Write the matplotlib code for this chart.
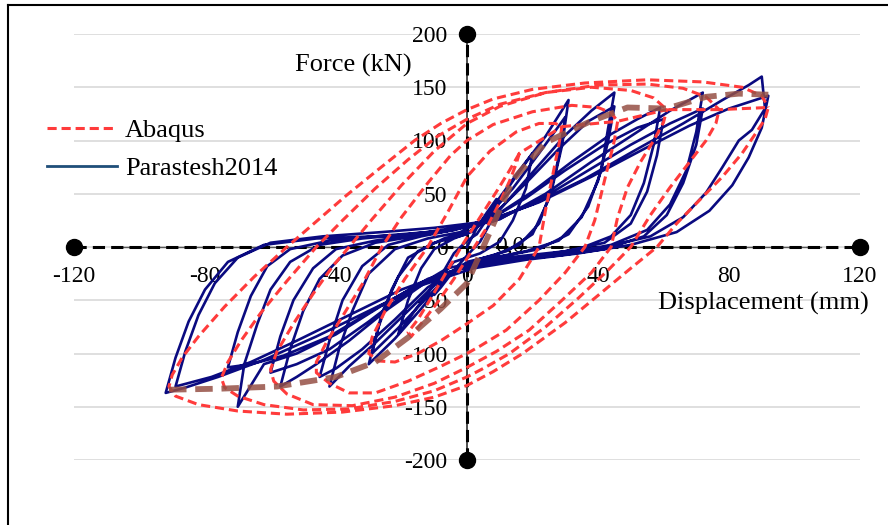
from matplotlib import pyplot as plt
from matplotlib.lines import Line2D
import numpy as np

# Abaqus hysteresis loops, (displacement mm, force kN), clockwise from the right tip
abaqus_s = [(16, 88), (13, 72), (9, 52), (4, 28), (-1, 4), (-6, -22), (-11, -48), (-15, -68), (-18, -80),
            (-17, -84), (-14, -72), (-9, -52), (-4, -30), (1, -6), (6, 18), (10, 42), (13, 62), (15, 78), (16, 88)]
abaqus_a = [(29, 113), (28, 95), (26, 65), (24, 35), (22, 0), (16, -30), (8, -55), (0, -72), (-8, -88),
            (-15, -100), (-22, -108), (-27, -107), (-30, -100), (-29, -85), (-25, -60), (-19, -30), (-12, 0),
            (-6, 32), (0, 66), (7, 90), (15, 108), (22, 116), (27, 116), (29, 113)]
abaqus_b = [(46, 118), (45, 100), (43, 75), (41, 50), (39, 25), (36, 0), (30, -24), (22, -50), (12, -78),
            (4, -93), (0, -100), (-8, -112), (-18, -126), (-28, -137), (-36, -137), (-42, -128), (-46, -118),
            (-46, -108), (-43, -90), (-38, -65), (-32, -35), (-26, 0), (-20, 28), (-12, 60), (-5, 86), (0, 100),
            (8, 115), (20, 127), (32, 133), (40, 131), (44, 126), (46, 118)]
abaqus_c = [(61, 129), (60, 117), (57, 100), (53, 80), (49, 56), (46, 28), (44, 0), (38, -24), (29, -50),
            (19, -78), (9, -98), (0, -113), (-10, -128), (-22, -141), (-35, -149), (-47, -148), (-55, -138),
            (-59, -126), (-60, -115), (-58, -98), (-53, -72), (-47, -44), (-41, -18), (-36, 0), (-29, 26),
            (-20, 58), (-10, 90), (0, 116), (10, 132), (24, 145), (38, 150), (50, 147), (57, 140), (61, 129)]
abaqus_d = [(77, 129), (76, 116), (73, 100), (68, 80), (62, 56), (56, 30), (50, 0), (43, -22), (34, -48),
            (24, -75), (13, -100), (5, -114), (0, -122), (-10, -135), (-22, -145), (-36, -152), (-50, -153),
            (-62, -148), (-70, -140), (-74, -132), (-75, -123), (-73, -108), (-69, -88), (-63, -62), (-55, -32),
            (-46, 0), (-38, 25), (-28, 55), (-18, 82), (-9, 104), (0, 120), (10, 134), (24, 145), (40, 152),
            (55, 153), (66, 149), (73, 141), (77, 129)]
abaqus_e = [(92, 131), (91, 120), (88, 106), (84, 88), (78, 66), (71, 44), (64, 22), (58, 0), (50, -20),
            (41, -43), (30, -71), (17, -100), (8, -117), (0, -130), (-10, -141), (-22, -149), (-38, -155),
            (-55, -157), (-70, -154), (-82, -148), (-89, -140), (-91, -131), (-90, -120), (-87, -104),
            (-82, -84), (-74, -56), (-65, -28), (-55, 0), (-46, 24), (-37, 48), (-27, 73), (-16, 100), (-8, 116),
            (0, 129), (8, 139), (20, 148), (36, 154), (55, 157), (72, 155), (84, 150), (90, 142), (92, 131)]

# Parastesh2014 test record, cycle by cycle
para_10 = [(0, 0), (3, 18), (6, 32), (9, 45), (7, 22), (4, 5), (0, -8), (-4, -22), (-8, -38), (-10, -45),
           (-7, -22), (-4, -6), (0, 6)]
para_20 = [(3, 12), (8, 35), (14, 62), (20, 88), (18, 55), (14, 25), (10, 5), (4, -6), (-4, -14), (-10, -35),
           (-16, -60), (-21, -82), (-18, -50), (-14, -20), (-10, -2), (-4, 8), (2, 15)]
para_30a = [(2, 15), (8, 38), (16, 72), (24, 104), (31, 138), (29, 95), (26, 55), (22, 22), (16, 2), (8, -8),
            (0, -14), (-6, -28), (-14, -58), (-22, -86), (-30, -110), (-27, -75), (-23, -40), (-18, -10),
            (-10, 4), (0, 12)]
para_30b = [(0, 12), (6, 28), (14, 55), (22, 88), (30, 122), (28, 84), (25, 45), (20, 12), (12, -4), (3, -12),
            (-5, -24), (-13, -50), (-21, -76), (-29, -100), (-26, -62), (-21, -28), (-15, -4), (-7, 8), (2, 16)]
para_45a = [(2, 16), (10, 35), (20, 70), (30, 105), (38, 128), (45, 145), (43, 110), (41, 72), (37, 38),
            (31, 12), (22, -2), (12, -8), (2, -14), (-8, -30), (-18, -60), (-28, -90), (-36, -112), (-42, -131),
            (-39, -95), (-35, -60), (-30, -25), (-22, -2), (-12, 8), (-2, 14)]
para_45b = [(-2, 14), (8, 30), (18, 60), (28, 92), (37, 118), (45, 132), (43, 98), (40, 62), (35, 28), (28, 6),
            (18, -4), (8, -10), (-2, -18), (-12, -38), (-22, -68), (-32, -96), (-40, -114), (-45, -122),
            (-42, -88), (-38, -50), (-32, -18), (-24, 2), (-14, 10), (-4, 16)]
para_60a = [(-4, 16), (8, 28), (20, 52), (32, 80), (44, 106), (52, 120), (59, 131), (57, 96), (54, 60),
            (50, 30), (44, 10), (34, -2), (22, -8), (10, -12), (0, -18), (-12, -32), (-24, -58), (-36, -88),
            (-46, -110), (-52, -122), (-57, -131), (-54, -96), (-50, -60), (-45, -30), (-38, -8), (-28, 4),
            (-16, 10), (-6, 15)]
para_60b = [(-6, 15), (6, 24), (18, 46), (30, 72), (42, 96), (52, 112), (60, 120), (58, 86), (55, 52),
            (50, 22), (42, 4), (30, -4), (18, -8), (6, -12), (-6, -20), (-18, -42), (-30, -70), (-42, -96),
            (-52, -110), (-60, -118), (-57, -84), (-53, -50), (-47, -20), (-40, -2), (-28, 6), (-14, 12), (-4, 16)]
para_75a = [(-4, 16), (10, 26), (24, 50), (38, 80), (50, 104), (62, 128), (72, 145), (70, 108), (67, 72),
            (62, 40), (55, 16), (44, 2), (30, -6), (16, -10), (2, -16), (-12, -30), (-26, -55), (-40, -82),
            (-52, -100), (-62, -110), (-70, -150), (-68, -110), (-64, -72), (-60, -40), (-54, -14), (-45, 2),
            (-32, 8), (-18, 12), (-6, 16)]
para_75b = [(-6, 16), (8, 24), (22, 44), (36, 70), (50, 96), (62, 116), (72, 130), (70, 96), (66, 60),
            (61, 30), (54, 10), (42, -2), (28, -8), (14, -12), (0, -18), (-14, -34), (-28, -58), (-42, -84),
            (-56, -102), (-66, -110), (-73, -113), (-70, -80), (-66, -46), (-61, -18), (-54, -2), (-42, 6),
            (-28, 10), (-12, 14)]
para_90a = [(-12, 14), (4, 22), (20, 40), (36, 64), (52, 92), (66, 116), (78, 138), (86, 152), (90, 160),
            (91, 130), (87, 110), (83, 100), (78, 75), (73, 51), (66, 28), (56, 10), (42, 0), (26, -8),
            (10, -14), (-4, -22), (-20, -40), (-36, -64), (-52, -88), (-66, -108), (-78, -122), (-89, -131),
            (-86, -98), (-82, -64), (-77, -34), (-70, -10), (-60, 4), (-44, 10), (-26, 14), (-10, 18)]
para_90b = [(-10, 18), (6, 24), (22, 42), (38, 66), (54, 92), (68, 114), (80, 130), (88, 138), (92, 142),
            (90, 112), (86, 84), (81, 58), (74, 34), (64, 14), (50, 2), (34, -6), (18, -12), (2, -20),
            (-14, -36), (-30, -60), (-46, -84), (-62, -106), (-76, -122), (-86, -132), (-92, -137), (-89, -104),
            (-85, -70), (-80, -40), (-73, -14), (-62, 2), (-46, 8), (-28, 10), (-12, 12)]

# backbone (envelope) of the Abaqus loops
backbone_x = [-91, -75, -58, -40, -28, -18, -8, 0, 7, 14, 24, 37, 49, 61, 73, 83, 92]
backbone_y = [-134, -133, -131, -122, -108, -85, -58, -34, 14, 63, 98, 117, 131, 130, 141, 144, 143]

x_ticks = [-120, -80, -40, 0, 40, 80, 120]
y_ticks = [-200, -150, -100, -50, 0, 50, 100, 150, 200]


if __name__ == '__main__':
    plt.rcParams['font.family'] = ['Liberation Serif', 'DejaVu Serif']
    plt.rcParams['axes.unicode_minus'] = False

    abq = np.array(abaqus_s + abaqus_a + abaqus_b + abaqus_c + abaqus_d + abaqus_e)
    para = np.array(para_10 + para_20 + para_30a + para_30b + para_45a + para_45b + para_60a + para_60b
                    + para_75a + para_75b + para_90a + para_90b)

    fig = plt.figure(figsize=(8.88, 5.25), dpi=100)
    ax = fig.add_axes([74 / 888, 1 - 460 / 525, 786 / 888, 426 / 525])
    ax.set_xlim(-120, 120)
    ax.set_ylim(-200, 200)

    for sp in ax.spines.values():
        sp.set_color('none')
    ax.spines['left'].set_position('zero')
    ax.spines['bottom'].set_position('zero')
    ax.set_xticks(x_ticks)
    ax.set_yticks(y_ticks)
    ax.tick_params(length=0, labelsize=17)
    ax.tick_params(axis='x', pad=14)
    ax.tick_params(axis='y', pad=14)
    ax.yaxis.grid(True, color='#d9d9d9', lw=1.2)

    # axes drawn as series, Excel style
    ax.plot([-108, 108], [0, 0], color='#595959', lw=1.0, zorder=1.8)
    ax.plot([0, 0], [-200, 200], color='#404040', lw=1.3, zorder=1.8)
    ax.plot([-120, 120], [0, 0], color='black', lw=2.2, ls=(0, (4, 2)), marker='o', ms=11.5,
            clip_on=False, zorder=1.9)
    ax.plot([0, 0], [-200, 200], color='black', lw=2.2, ls=(0, (4, 2)), marker='o', ms=11.5,
            clip_on=False, zorder=1.9)

    ax.plot(para[:, 0], para[:, 1], color='#0a0a80', lw=1.9, solid_joinstyle='round', zorder=3)
    red, = ax.plot(abq[:, 0], abq[:, 1], color='#ff3b3b', lw=2.2, ls=(0, (3, 1.6)), zorder=4, label='Abaqus')
    ax.plot(backbone_x, backbone_y, color='#955045', alpha=0.85, lw=4.2, ls=(0, (3, 1.5)), zorder=5)

    ax.text(-16.8, 170, 'Force (kN)', fontsize=19, ha='right', va='center')
    ax.text(90.4, -52.6, 'Displacement (mm)', fontsize=19, ha='center', va='center', clip_on=False)
    ax.text(13, 0, '0,0', fontsize=17, ha='center', va='center', zorder=2.5)

    blue = Line2D([], [], color='#1f4e79', lw=2.0, label='Parastesh2014')
    fig.legend(handles=[red, blue], loc='center left', bbox_to_anchor=(47 / 888, 1 - 149.5 / 525),
               frameon=False, fontsize=19, borderpad=0, borderaxespad=0, handlelength=2.65,
               handletextpad=0.3, labelspacing=0.56)

    # picture frame (left and top edges)
    fig.add_artist(Line2D([8 / 888, 8 / 888], [0, 1 - 5 / 525], color='black', lw=1.5))
    fig.add_artist(Line2D([8 / 888, 1], [1 - 5 / 525, 1 - 5 / 525], color='black', lw=1.5))

    fig.savefig('out.png', dpi=100)
